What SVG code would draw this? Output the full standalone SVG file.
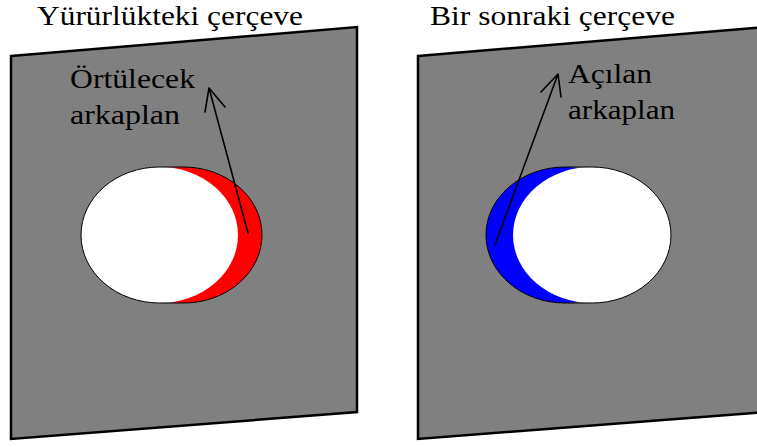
<svg xmlns="http://www.w3.org/2000/svg" width="757" height="447" viewBox="0 0 757 447">
<style>
.frame{fill:#808080;stroke:#000;stroke-width:2.5;stroke-linejoin:miter}
.t{font-family:"Liberation Serif","Times New Roman","DejaVu Serif",serif;font-size:27px;fill:#000}
.edge{fill:none;stroke:#000;stroke-width:1}
.arr{fill:none;stroke:#000;stroke-width:1.6;stroke-linecap:round;stroke-linejoin:round}
</style>
<rect width="757" height="447" fill="#fff"/>
<g id="frame-current">
<polygon class="frame" points="11,56 357,27 357,412 11,439"/>
<ellipse cx="183.5" cy="235" rx="78.5" ry="68" fill="#ff0000"/>
<ellipse cx="159.5" cy="235" rx="78.5" ry="68" fill="#fff"/>
<path class="edge" d="M159.5,167 L183.5,167 A78.5,68 0 0 1 183.5,303 L159.5,303 A78.5,68 0 0 1 159.5,167 Z"/>
<text class="t" font-family="Liberation Serif, Times New Roman, serif" x="37" y="25" textLength="266" lengthAdjust="spacingAndGlyphs">Yürürlükteki çerçeve</text>
</g>
<g id="label-covered">
<text class="t" font-family="Liberation Serif, Times New Roman, serif" x="70" y="88" textLength="125" lengthAdjust="spacingAndGlyphs">Örtülecek</text>
<text class="t" font-family="Liberation Serif, Times New Roman, serif" x="70" y="124" textLength="110" lengthAdjust="spacingAndGlyphs">arkaplan</text>
</g>
<g id="frame-next">
<polygon class="frame" points="418,56 766,27 766,412 418,439"/>
<ellipse cx="565" cy="235" rx="79" ry="68" fill="#0000ff"/>
<ellipse cx="592" cy="235" rx="79" ry="68" fill="#fff"/>
<path class="edge" d="M565,167 L592,167 A79,68 0 0 1 592,303 L565,303 A79,68 0 0 1 565,167 Z"/>
<text class="t" font-family="Liberation Serif, Times New Roman, serif" x="430" y="25" textLength="245" lengthAdjust="spacingAndGlyphs">Bir sonraki çerçeve</text>
</g>
<g id="label-revealed">
<text class="t" font-family="Liberation Serif, Times New Roman, serif" x="568" y="83" textLength="84" lengthAdjust="spacingAndGlyphs">Açılan</text>
<text class="t" font-family="Liberation Serif, Times New Roman, serif" x="568" y="119" textLength="107" lengthAdjust="spacingAndGlyphs">arkaplan</text>
</g>
<g id="connectors">
<path class="arr" d="M248,233 L209,88 M205,112 L209,88 L225,107"/>
<path class="arr" d="M495,245 L558,74 M541,92 L558,74 L561,97"/>
</g>
</svg>
